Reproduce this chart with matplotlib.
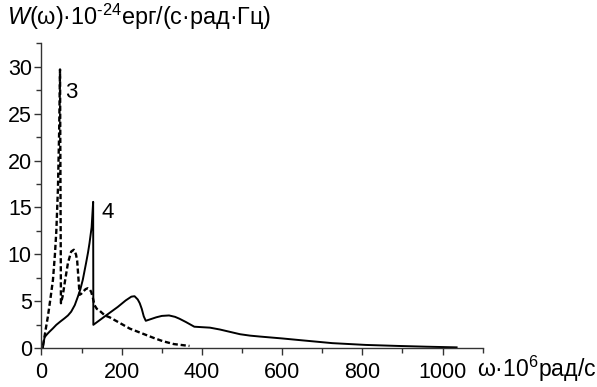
import matplotlib
matplotlib.use("Agg")
import matplotlib.pyplot as plt
from matplotlib.ticker import MultipleLocator

plt.rcParams["font.family"] = ["Liberation Sans", "DejaVu Sans"]
plt.rcParams["mathtext.fontset"] = "custom"
plt.rcParams["mathtext.rm"] = "Liberation Sans"
plt.rcParams["mathtext.it"] = "Liberation Sans:italic"

# curve 3 (dashed)
x3 = [4, 10, 16, 22, 28.6, 33.5, 37, 41, 44, 46.2, 48.5, 53, 58, 66, 74, 80.7,
      86, 89, 92.4, 95, 99, 103, 110, 115.5, 120, 124, 128, 132, 138, 145,
      158, 170, 191, 220, 250, 280, 303, 330, 369]
y3 = [0.3, 1.9, 3.4, 5.2, 7.3, 10.0, 12.5, 17.0, 23.0, 29.7, 4.8, 5.6, 7.0,
      9.1, 10.3, 10.5, 10.0, 9.3, 7.3, 5.7, 5.8, 6.0, 6.3, 6.4, 6.3, 6.0, 5.4,
      4.6, 4.2, 4.0, 3.5, 3.3, 2.8, 2.1, 1.6, 1.1, 0.75, 0.45, 0.25]

# curve 4 (solid)
x4 = [3.7, 4.5, 8, 14, 20, 28, 37, 47, 57.6, 66, 74, 83, 90.7, 97, 103, 111,
      116, 119.7, 125, 128.8, 129.3, 161, 190, 210, 224, 232, 240, 245, 250,
      255, 260, 272, 286, 300, 318, 333, 344, 360, 381, 400, 420, 445, 470,
      495, 520, 545, 600, 642, 725, 808, 890, 960, 1035]
y4 = [0, 0.5, 1.2, 1.5, 1.77, 2.1, 2.5, 2.85, 3.2, 3.5, 3.9, 4.6, 5.5, 6.3,
      7.3, 9.05, 10.2, 11.2, 12.9, 15.6, 2.5, 3.5, 4.4, 5.1, 5.5, 5.55, 5.2,
      4.8, 4.2, 3.4, 2.93, 3.1, 3.3, 3.45, 3.5, 3.35, 3.15, 2.8, 2.3, 2.25,
      2.2, 2.0, 1.75, 1.5, 1.35, 1.25, 1.05, 0.88, 0.55, 0.36, 0.25, 0.17, 0.1]

fig = plt.figure(figsize=(5.97, 3.87), dpi=100)
ax = fig.add_axes([0.0695, 0.1, 0.739, 0.7884])

ax.plot(x3, y3, color="black", lw=1.7, dashes=(2.2, 1.2))
ax.plot(x4, y4, color="black", lw=1.4)

ax.text(75, 27.25, "3", fontsize=16, ha="center", va="center")
ax.text(164, 14.5, "4", fontsize=16, ha="center", va="center")

ax.set_xlim(0, 1100)
ax.set_ylim(0, 32.5)
ax.xaxis.set_major_locator(MultipleLocator(200))
ax.xaxis.set_minor_locator(MultipleLocator(100))
ax.yaxis.set_major_locator(MultipleLocator(5))
ax.yaxis.set_minor_locator(MultipleLocator(2.5))
ax.set_xticks([0, 200, 400, 600, 800, 1000])
for s in ["top", "right"]:
    ax.spines[s].set_visible(False)
for s in ["left", "bottom"]:
    ax.spines[s].set_linewidth(1.0)
    ax.spines[s].set_color("#333333")
ax.tick_params(which="major", length=5, width=1, color="#333333",
               labelsize=15.5)
ax.tick_params(which="minor", length=3.5, width=1, color="#333333")
ax.tick_params(axis="x", which="major", pad=5)
ax.tick_params(axis="y", which="major", pad=2)

fig.text(7 / 597, 1 - 25 / 387,
         r"$W$(ω)·10$^{\text{-24}}$ерг/(с·рад·Гц)", fontsize=16.8, va="baseline")
fig.text(477 / 597, 1 - 377 / 387, r"ω·10$^{6}$рад/с", fontsize=16.6,
         va="baseline")

fig.savefig("out.png", dpi=100)
